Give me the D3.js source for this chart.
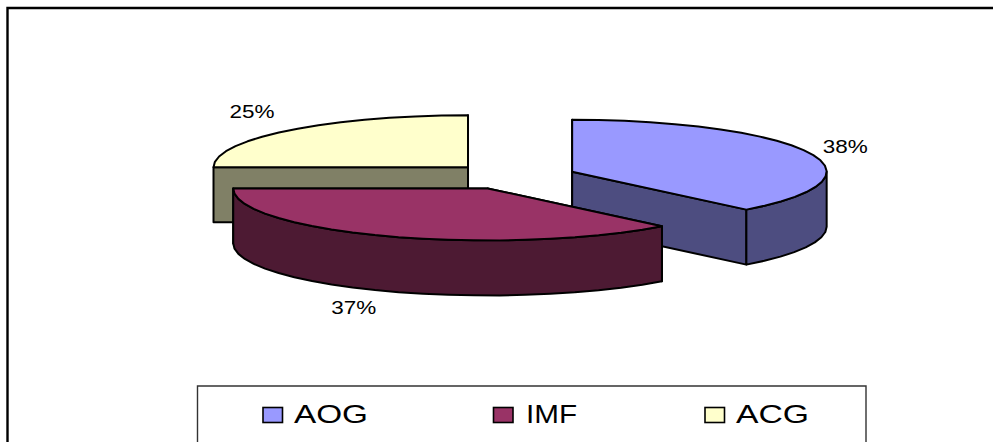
<!DOCTYPE html>
<html>
<head>
<meta charset="utf-8">
<script src="https://cdn.jsdelivr.net/npm/d3@7/dist/d3.min.js"></script>
<style>
  html, body { margin: 0; padding: 0; background: #fff; overflow: hidden; }
  svg { display: block; }
  text { font-family: "Liberation Sans", Arial, sans-serif; fill: #000; }
</style>
</head>
<body>
<svg id="chart" width="993" height="442"></svg>
<script>
// Chart data
const categories = ["AOG", "IMF", "ACG"];
const shares = [38, 37, 25];
const topColors = ["#9999FF", "#993366", "#FFFFCC"];
const sideColors = ["#4D4D80", "#4D1A33", "#808066"];

// Tilted, exploded pie geometry
const W = 993, H = 442;
const cx = 513, cy = 176.5, rx = 254.5, ry = 52, depth = 55, explode = 0.25;
const arcStep = Math.PI / 30;   // rim is faceted, not a true curve
const labelOffset = [[273, -26], [-134, 119], [-216, -56]];

const svg = d3.select("#chart");

// Outer frame runs off the right and bottom of the page
svg.append("path")
  .attr("d", `M${W},8H7.5V${H}`)
  .attr("fill", "none").attr("stroke", "#000").attr("stroke-width", 2.4);

const slices = d3.pie().sort(null).startAngle(0).endAngle(2 * Math.PI)(shares);

const px = d3.scaleLinear().domain([0, 1]).range([0, rx]);
const py = d3.scaleLinear().domain([0, 1]).range([0, ry]);
const onRim = (c, a, dz = 0) => [c.x + px(Math.sin(a)), c.y - py(Math.cos(a)) + dz];
const line = d3.line();

function sampleArc(a0, a1) {
  const n = Math.max(1, Math.ceil((a1 - a0) / arcStep));
  return d3.range(n + 1).map(i => a0 + (a1 - a0) * i / n);
}

const pieces = slices.map((s, i) => {
  const mid = (s.startAngle + s.endAngle) / 2;
  return {
    i, s,
    c: { x: cx + explode * px(Math.sin(mid)), y: cy - explode * py(Math.cos(mid)) }
  };
});

// Back slices first so the front slice overlaps them
const order = [2, 0, 1];

const g = svg.append("g").attr("stroke", "#000").attr("stroke-width", 2)
  .attr("stroke-linejoin", "round");

order.forEach(idx => {
  const { s, c, i } = pieces[idx];
  const group = g.append("g").attr("class", "slice-" + categories[i]);

  // Radial cut faces
  [s.startAngle, s.endAngle].forEach(a => {
    const r = onRim(c, a);
    const quad = [[c.x, c.y], r, [r[0], r[1] + depth], [c.x, c.y + depth]];
    group.append("path").attr("d", line(quad) + "Z").attr("fill", sideColors[i]);
  });

  // Outer wall: only the part of the rim facing the viewer
  const a0 = Math.max(s.startAngle, Math.PI / 2);
  const a1 = Math.min(s.endAngle, 3 * Math.PI / 2);
  if (a1 > a0) {
    const angles = sampleArc(a0, a1);
    const upper = angles.map(a => onRim(c, a));
    const lower = angles.slice().reverse().map(a => onRim(c, a, depth));
    group.append("path").attr("d", line(upper.concat(lower)) + "Z").attr("fill", sideColors[i]);
  }

  // Top face
  const rim = sampleArc(s.startAngle, s.endAngle).map(a => onRim(c, a));
  group.append("path").attr("d", line([[c.x, c.y]].concat(rim)) + "Z").attr("fill", topColors[i]);
});

// Text is squeezed into a fixed width to get the chart's wide lettering
function fittedText(x, y, str, size, width) {
  svg.append("text")
    .attr("x", x).attr("y", y)
    .attr("font-size", size)
    .attr("textLength", width)
    .attr("lengthAdjust", "spacingAndGlyphs")
    .text(str);
}

// Percentage labels
const labelFmt = d => d + "%";
const labelWidth = 45;
pieces.forEach(({ c, i }) => {
  fittedText(c.x + labelOffset[i][0] - labelWidth / 2, c.y + labelOffset[i][1] + 6.8,
    labelFmt(shares[i]), 18.6, labelWidth);
});

// Legend box, cut off by the bottom of the page
svg.append("path")
  .attr("d", `M197.5,${H}V386H866V${H}`)
  .attr("fill", "#fff").attr("stroke", "#333").attr("stroke-width", 1.4);

const legendSwatchX = [263, 493.5, 705];
const legendTextX = [294, 526, 736];
const legendTextWidth = [74, 51, 73];
categories.forEach((name, i) => {
  svg.append("rect")
    .attr("x", legendSwatchX[i]).attr("y", 407.5).attr("width", 19.5).attr("height", 15)
    .attr("fill", topColors[i]).attr("stroke", "#000").attr("stroke-width", 1.6);
  fittedText(legendTextX[i], 423, name, 26, legendTextWidth[i]);
});
</script>
</body>
</html>
